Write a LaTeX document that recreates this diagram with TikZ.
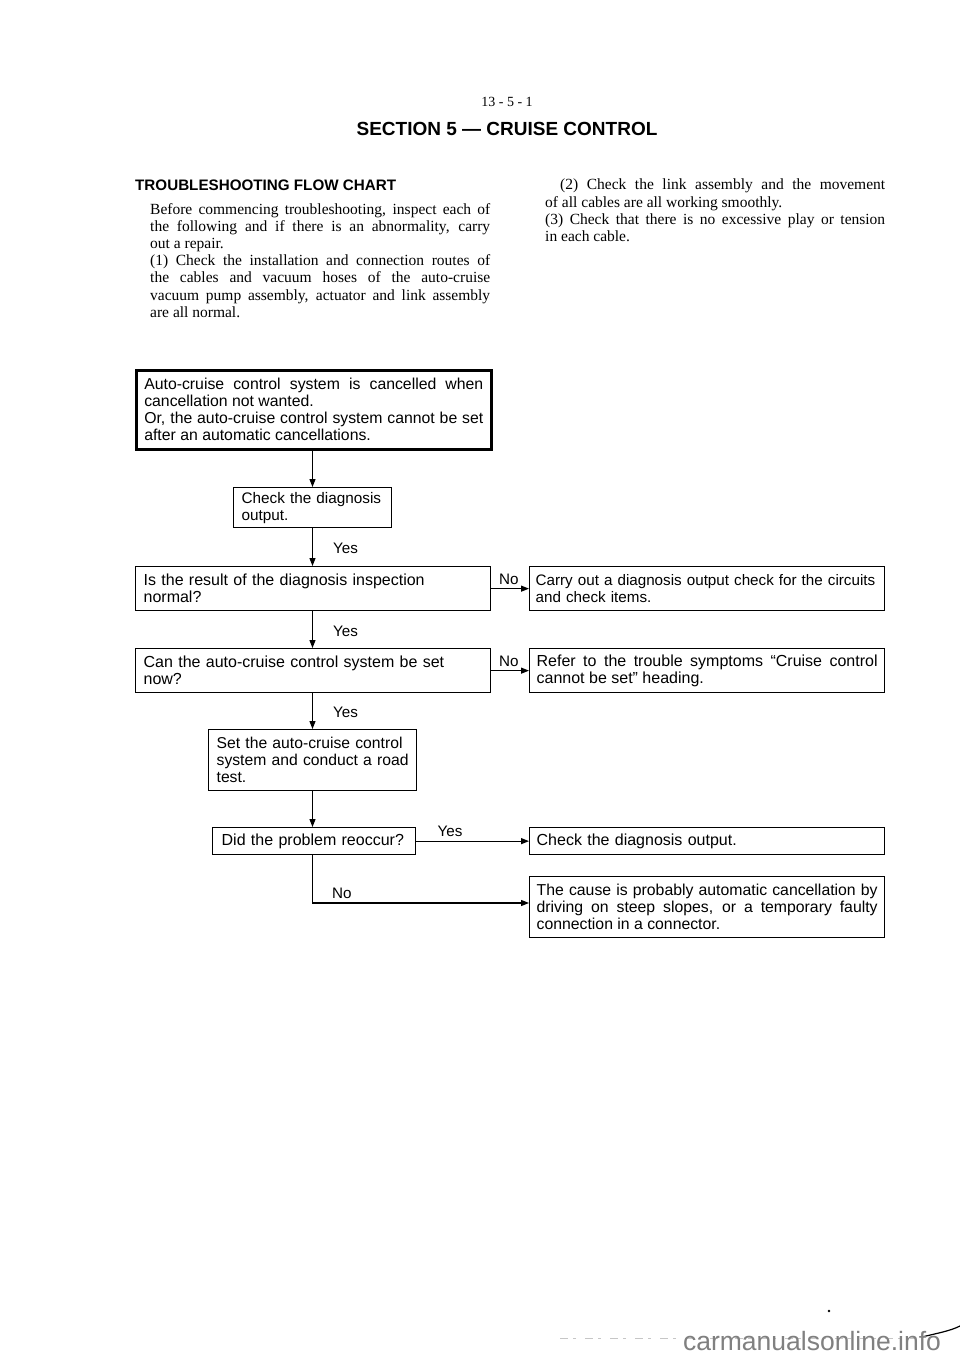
\documentclass[tikz,border=0pt]{standalone}
\usepackage{fontspec}
\setmainfont{Liberation Serif}
\setsansfont{Liberation Sans}
\usetikzlibrary{arrows.meta}
\hyphenpenalty=10000
\exhyphenpenalty=10000
\newcommand\bxfont{\sffamily\fontsize{16}{17}\selectfont}
\newcommand\bxsize[1]{\sffamily\fontsize{#1}{17}\selectfont}
\newcommand\serfont{\rmfamily\fontsize{15.5}{17.2}\selectfont}
\begin{document}
\begin{tikzpicture}[x=1pt,y=-1pt,
  box/.style={draw,line width=1.3pt,anchor=north west,inner xsep=8pt,inner ysep=0pt,font=\bxfont,align=left},
  jbox/.style={box,align=justify},
  lbl/.style={font=\bxsize{15.2},inner sep=0pt},
  arr/.style={line width=1.2pt,-{Triangle[length=8pt,width=6pt]}},
  para/.style={anchor=north west,inner sep=0pt,text width=340pt,align=justify,font=\serfont}]
\fill[white] (0,0) rectangle (960,1357);
\useasboundingbox (0,0) rectangle (960,1357);

% header
\node[anchor=base,inner sep=0pt,font=\rmfamily\fontsize{14}{16}\selectfont] (pg) at (507,106) {13 - 5 - 1};
\node[anchor=base,inner sep=0pt,font=\sffamily\bfseries\fontsize{19}{22}\selectfont] (title) at (507,135) {SECTION 5 — CRUISE CONTROL};
\node[anchor=base west,inner sep=0pt,font=\sffamily\bfseries\fontsize{15.2}{17}\selectfont] (head) at (135,190) {TROUBLESHOOTING FLOW CHART};

\node[para] (p1) at (150,203) {Before commencing troubleshooting, inspect each of\linebreak the following and if there is an abnormality, carry\linebreak out a repair.\newline (1) Check the installation and connection routes of\linebreak the cables and vacuum hoses of the auto-cruise\linebreak vacuum pump assembly, actuator and link assembly\linebreak are all normal.};
\node[para] (p2) at (545,179) {\hspace*{15pt}(2) Check the link assembly and the movement\linebreak of all cables are all working smoothly.\newline (3) Check that there is no excessive play or tension\linebreak in each cable.};

% boxes
\node[jbox,font=\bxsize{15.8},line width=2.6pt,inner xsep=8pt,text width=339pt,minimum height=79pt] (b1) at (135,369) {Auto-cruise control system is cancelled when\linebreak cancellation not wanted.\newline Or, the auto-cruise control system cannot be set\linebreak after an automatic cancellations.};
\node[box,font=\bxsize{15.3},text width=142pt,minimum height=40pt] (b2) at (233,487) {Check the diagnosis\\output.};
\node[box,text width=339pt,minimum height=44pt] (b3) at (135,566) {Is the result of the diagnosis inspection\\normal?};
\node[box,font=\bxsize{15.2},inner xsep=6pt,text width=343pt,minimum height=44pt] (b3r) at (529,566) {Carry out a diagnosis output check for the circuits\\and check items.};
\node[box,text width=339pt,minimum height=44pt] (b4) at (135,648) {Can the auto-cruise control system be set\\now?};
\node[jbox,inner xsep=7pt,text width=341pt,minimum height=44pt] (b4r) at (529,648) {Refer to the trouble symptoms “Cruise control\linebreak cannot be set” heading.};
\node[box,font=\bxsize{15.7},inner xsep=8pt,text width=192pt,minimum height=61pt] (b5) at (208,729) {Set the auto-cruise control\\system and conduct a road\\test.};
\node[box,inner xsep=9pt,text width=185pt,minimum height=27pt] (b6) at (212,827) {Did the problem reoccur?};
\node[box,inner xsep=7pt,text width=341pt,minimum height=27pt] (b6r) at (529,827) {Check the diagnosis output.};
\node[jbox,font=\bxsize{15.8},inner xsep=7pt,text width=341pt,minimum height=61pt] (b7) at (529,876) {The cause is probably automatic cancellation by\linebreak driving on steep slopes, or a temporary faulty\linebreak connection in a connector.};

% connectors
\coordinate (ax) at (312.5,0);
\coordinate (ny) at (0,903);
\draw[arr] (ax |- b1.south) -- (ax |- b2.north);
\draw[arr] (ax |- b2.south) -- (ax |- b3.north);
\draw[arr] (ax |- b3.south) -- (ax |- b4.north);
\draw[arr] (ax |- b4.south) -- (ax |- b5.north);
\draw[arr] (ax |- b5.south) -- (ax |- b6.north);
\draw[arr] (b3.east) -- (b3r.west);
\draw[arr] (b4.east) -- (b4r.west);
\draw[arr] (b6.east) -- (b6r.west);
\draw[arr] (ax |- b6.south) -- (ax |- ny) -- (ny -| b7.west);

% labels
\node[lbl,anchor=base west] (y1) at (333,553) {Yes};
\node[lbl,anchor=base west] (y2) at (333,636) {Yes};
\node[lbl,anchor=base west] (y3) at (333,717) {Yes};
\node[lbl,anchor=base west] (n1) at (499,584) {No};
\node[lbl,anchor=base west] (n2) at (499,666) {No};
\node[lbl,anchor=base] (y4) at (450,836) {Yes};
\node[lbl,anchor=base west] (n3) at (332,898) {No};

% scan marks and watermark
\draw[gray!45,line width=1pt,dash pattern=on 8pt off 5pt on 3pt off 9pt] (560,1338) -- (915,1338);
\fill (829,1311) circle (1.4pt);
\draw[line width=1.2pt] (922,1337) .. controls (938,1333) and (950,1331) .. (960,1326);
\node[font=\sffamily\fontsize{26.5}{30}\selectfont,text=gray,inner sep=0pt] (wm) at (812,1341) {carmanualsonline.info};
\end{tikzpicture}
\end{document}
